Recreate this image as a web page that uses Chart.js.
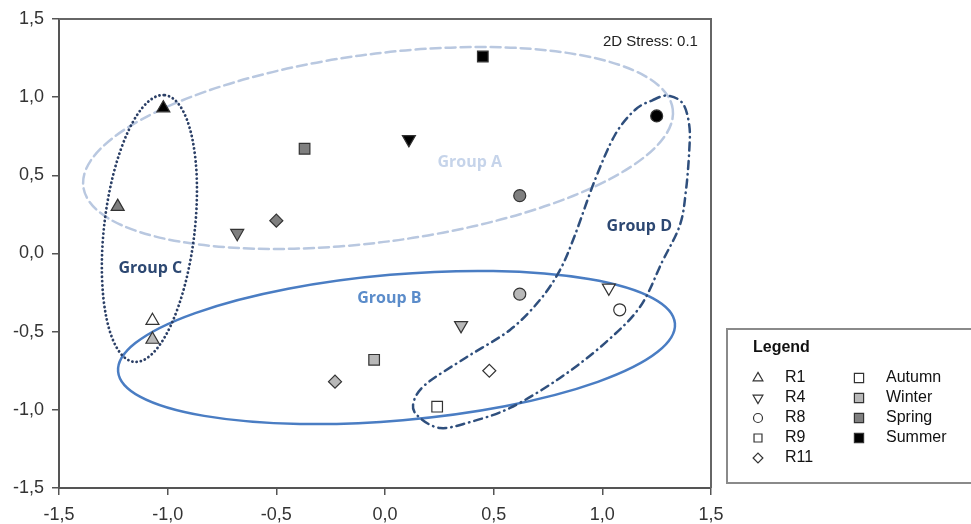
<!DOCTYPE html>
<html lang="en">
<head>
  <meta charset="UTF-8" />
  <title>NMDS - seasons and sites</title>
  <script src="https://cdn.jsdelivr.net/npm/chart.js"></script>
  <style>
    body {
      margin: 0;
      background-color: #ffffff;
    }

    .chart-box {
      width: 971px;
      height: 524px;
    }
  </style>
</head>
<body>
  <div class="chart-box">
    <canvas id="nmdsChart" width="971" height="524"></canvas>
  </div>

  <script>
    // ordination scores, order of seasons: Autumn, Winter, Spring, Summer
    const seasons = ["Autumn", "Winter", "Spring", "Summer"];
    const sites = ["R1", "R4", "R8", "R9", "R11"];

    const r1X = [-1.07, -1.07, -1.23, -1.02];
    const r1Y = [-0.43, -0.55, 0.30, 0.93];
    const r4X = [1.03, 0.35, -0.68, 0.11];
    const r4Y = [-0.22, -0.46, 0.13, 0.73];
    const r8X = [1.08, 0.62, 0.62, 1.25];
    const r8Y = [-0.36, -0.26, 0.37, 0.88];
    const r9X = [0.24, -0.05, -0.37, 0.45];
    const r9Y = [-0.98, -0.68, 0.67, 1.26];
    const r11X = [0.48, -0.23, -0.50, null];
    const r11Y = [-0.75, -0.82, 0.21, null];

    const axisTicks = [-1.5, -1.0, -0.5, 0.0, 0.5, 1.0, 1.5];

    // outline of group D (x, y pairs)
    const groupDX = [1.23, 1.30, 1.37, 1.40, 1.40, 1.385, 1.357, 1.275, 1.173, 1.012, 0.805, 0.575, 0.377, 0.253, 0.161, 0.129, 0.184, 0.377, 0.575, 0.713, 0.805, 0.874, 0.966, 1.058, 1.150];
    const groupDY = [0.98, 1.01, 0.96, 0.82, 0.66, 0.406, 0.182, -0.054, -0.342, -0.573, -0.796, -0.988, -1.084, -1.116, -1.052, -0.969, -0.841, -0.662, -0.489, -0.297, -0.106, 0.118, 0.470, 0.758, 0.918];

    const seasonFill = ["#ffffff", "#b8b8b8", "#7f7f7f", "#000000"];
    const siteShape = {
      R1: { style: "triangle", rotation: 0, radius: 7.5 },
      R4: { style: "triangle", rotation: 180, radius: 7.5 },
      R8: { style: "circle", rotation: 0, radius: 6 },
      R9: { style: "rect", rotation: 0, radius: 7.5 },
      R11: { style: "rectRot", rotation: 0, radius: 6.5 }
    };

    const siteX = { R1: r1X, R4: r4X, R8: r8X, R9: r9X, R11: r11X };
    const siteY = { R1: r1Y, R4: r4Y, R8: r8Y, R9: r9Y, R11: r11Y };

    const datasets = sites.map(site => {
      const pts = [];
      const fills = [];
      seasons.forEach((s, i) => {
        if (siteX[site][i] === null) return;
        pts.push({ x: siteX[site][i], y: siteY[site][i] });
        fills.push(seasonFill[i]);
      });
      return {
        label: site,
        data: pts,
        pointStyle: siteShape[site].style,
        rotation: siteShape[site].rotation,
        pointRadius: siteShape[site].radius,
        pointBackgroundColor: fills,
        pointBorderColor: "#333333",
        pointBorderWidth: 1.2
      };
    });

    // ellipses in data units: centre, half axis a, half axis b
    const ellipses = [
      { c: [-0.032, 0.675], a: [1.356, 0.249], b: [0.057, -0.596], color: "#b9c8e0", dash: [10, 5], width: 2.5 },
      { c: [0.053, -0.601], a: [1.281, 0.154], b: [0.029, -0.465], color: "#4a7dc3", dash: [], width: 2.5 },
      { c: [-1.084, 0.160], a: [0.071, 0.853], b: [0.207, -0.033], color: "#2b3f66", dash: [0.1, 4.2], width: 2.8 }
    ];

    const groupLabels = [
      { text: "Group A", x: 0.39, y: 0.58, color: "#c6d4ea" },
      { text: "Group B", x: 0.02, y: -0.285, color: "#5b8cca" },
      { text: "Group C", x: -1.08, y: -0.093, color: "#2d4872" },
      { text: "Group D", x: 1.17, y: 0.17, color: "#2d4872" }
    ];

    function drawShape(ctx, style, rot, r, x, y) {
      ctx.beginPath();
      if (style === "circle") {
        ctx.arc(x, y, r, 0, Math.PI * 2);
      } else if (style === "rect") {
        const s = r * Math.SQRT1_2;
        ctx.rect(x - s, y - s, 2 * s, 2 * s);
      } else if (style === "rectRot") {
        ctx.moveTo(x - r, y); ctx.lineTo(x, y + r); ctx.lineTo(x + r, y); ctx.lineTo(x, y - r);
        ctx.closePath();
      } else {
        let a = rot * Math.PI / 180;
        ctx.moveTo(x + Math.sin(a) * r, y - Math.cos(a) * r);
        a += 2 * Math.PI / 3;
        ctx.lineTo(x + Math.sin(a) * r, y - Math.cos(a) * r);
        a += 2 * Math.PI / 3;
        ctx.lineTo(x + Math.sin(a) * r, y - Math.cos(a) * r);
        ctx.closePath();
      }
      ctx.fill();
      ctx.stroke();
    }

    const groupsPlugin = {
      id: "groups",
      beforeDatasetsDraw(chart) {
        const ctx = chart.ctx;
        const xs = chart.scales.x, ys = chart.scales.y;
        ctx.save();
        ctx.lineCap = "round";

        ellipses.forEach(e => {
          const cx = xs.getPixelForValue(e.c[0]), cy = ys.getPixelForValue(e.c[1]);
          const ax = xs.getPixelForValue(e.c[0] + e.a[0]) - cx, ay = ys.getPixelForValue(e.c[1] + e.a[1]) - cy;
          const bx = xs.getPixelForValue(e.c[0] + e.b[0]) - cx, by = ys.getPixelForValue(e.c[1] + e.b[1]) - cy;
          ctx.beginPath();
          ctx.save();
          ctx.translate(cx, cy);
          ctx.transform(ax, ay, bx, by, 0, 0);
          ctx.arc(0, 0, 1, 0, Math.PI * 2);
          ctx.restore();
          ctx.strokeStyle = e.color;
          ctx.lineWidth = e.width;
          ctx.setLineDash(e.dash);
          ctx.stroke();
        });

        // group D: closed smooth outline
        const p = groupDX.map((v, i) => [xs.getPixelForValue(v), ys.getPixelForValue(groupDY[i])]);
        const n = p.length;
        ctx.beginPath();
        ctx.moveTo(p[0][0], p[0][1]);
        for (let i = 0; i < n; i++) {
          const p0 = p[(i - 1 + n) % n], p1 = p[i], p2 = p[(i + 1) % n], p3 = p[(i + 2) % n];
          ctx.bezierCurveTo(
            p1[0] + (p2[0] - p0[0]) / 6, p1[1] + (p2[1] - p0[1]) / 6,
            p2[0] - (p3[0] - p1[0]) / 6, p2[1] - (p3[1] - p1[1]) / 6,
            p2[0], p2[1]);
        }
        ctx.closePath();
        ctx.strokeStyle = "#2f4f7d";
        ctx.lineWidth = 2.5;
        ctx.setLineDash([8, 5, 0.5, 5]);
        ctx.stroke();
        ctx.setLineDash([]);

        ctx.font = "bold 16px 'Open Sans', sans-serif";
        ctx.textAlign = "center";
        ctx.textBaseline = "middle";
        groupLabels.forEach(g => {
          ctx.fillStyle = g.color;
          ctx.fillText(g.text, xs.getPixelForValue(g.x), ys.getPixelForValue(g.y));
        });

        ctx.fillStyle = "#222222";
        ctx.font = "15px 'Liberation Sans', Arial, sans-serif";
        ctx.textAlign = "right";
        ctx.fillText("2D Stress: 0.1", xs.getPixelForValue(1.44), ys.getPixelForValue(1.355));
        ctx.restore();
      },
      afterDraw(chart) {
        const ctx = chart.ctx;
        const area = chart.chartArea;
        ctx.save();
        // frame top and right
        ctx.strokeStyle = "#666666";
        ctx.lineWidth = 2;
        ctx.beginPath();
        ctx.moveTo(area.left, area.top);
        ctx.lineTo(area.right, area.top);
        ctx.lineTo(area.right, area.bottom);
        ctx.stroke();

        // legend box
        ctx.strokeStyle = "#8a8a8a";
        ctx.lineWidth = 2;
        ctx.strokeRect(727, 329, 260, 154);
        ctx.fillStyle = "#111111";
        ctx.textBaseline = "middle";
        ctx.textAlign = "left";
        ctx.font = "bold 16px 'Liberation Sans', Arial, sans-serif";
        ctx.fillText("Legend", 753, 348);
        ctx.font = "16px 'Liberation Sans', Arial, sans-serif";
        ctx.strokeStyle = "#333333";
        ctx.lineWidth = 1.2;
        sites.forEach((site, i) => {
          const y = 378 + i * 20;
          const sh = siteShape[site];
          ctx.fillStyle = "#ffffff";
          drawShape(ctx, sh.style, sh.rotation, sh.radius * 0.75, 758, y);
          ctx.fillStyle = "#111111";
          ctx.fillText(site, 785, y);
        });
        seasons.forEach((s, i) => {
          const y = 378 + i * 20;
          ctx.fillStyle = seasonFill[i];
          drawShape(ctx, "rect", 0, 6.5, 859, y);
          ctx.fillStyle = "#111111";
          ctx.fillText(s, 886, y);
        });
        ctx.restore();
      }
    };

    const fmt = v => v.toFixed(1).replace(".", ",");

    new Chart(document.getElementById("nmdsChart"), {
      type: "scatter",
      data: { datasets: datasets },
      options: {
        responsive: false,
        animation: false,
        layout: { padding: { top: 19, right: 260, left: 0, bottom: 0 } },
        plugins: {
          legend: { display: false },
          tooltip: { enabled: false }
        },
        scales: {
          x: {
            min: -1.5,
            max: 1.5,
            afterFit(scale) { scale.height = 36; },
            afterBuildTicks(scale) { scale.ticks = axisTicks.map(v => ({ value: v })); },
            border: { display: true, color: "#555555", width: 2 },
            grid: { drawOnChartArea: false, drawTicks: true, tickLength: 7, color: "#555555", lineWidth: 1.5 },
            ticks: {
              padding: 9,
              color: "#333333",
              font: { family: "'Liberation Sans', Arial, sans-serif", size: 18 },
              callback: v => fmt(v),
              maxRotation: 0
            }
          },
          y: {
            min: -1.5,
            max: 1.5,
            afterFit(scale) { scale.width = 59; },
            afterBuildTicks(scale) { scale.ticks = axisTicks.map(v => ({ value: v })); },
            border: { display: true, color: "#555555", width: 2 },
            grid: { drawOnChartArea: false, drawTicks: true, tickLength: 7, color: "#555555", lineWidth: 1.5 },
            ticks: {
              padding: 8,
              color: "#333333",
              font: { family: "'Liberation Sans', Arial, sans-serif", size: 18 },
              callback: v => fmt(v)
            }
          }
        }
      },
      plugins: [groupsPlugin]
    });
  </script>
</body>
</html>
